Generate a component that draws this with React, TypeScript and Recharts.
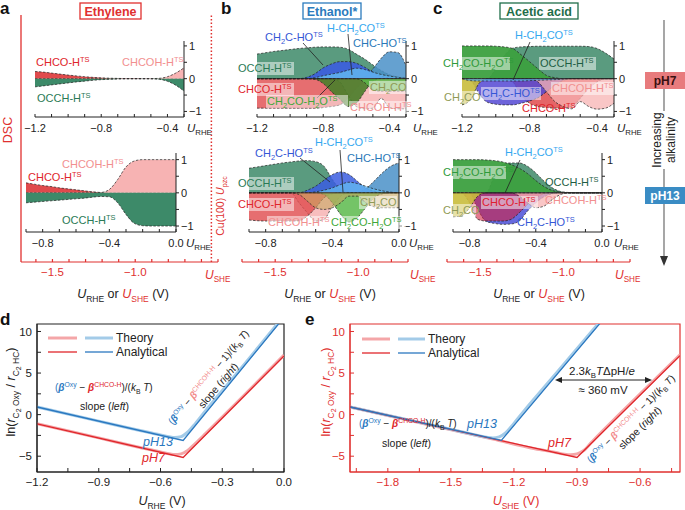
import React from 'react';
import { ComposedChart, Area, XAxis, YAxis, ReferenceLine, ReferenceArea, LineChart, Line } from 'recharts';

const FONT = '"Liberation Sans", Arial, Helvetica, sans-serif';
const RED = '#e0302f';
const INK = '#222';
const BLUE = '#2a78c0';
const PINK = '#f28a8a';

// potential grids, V vs RHE
const uPH7 = [-1.2, -1.15, -1.1, -1.05, -1.0, -0.95, -0.9, -0.85, -0.8, -0.75, -0.7, -0.65, -0.6, -0.55, -0.5, -0.45, -0.4, -0.35, -0.3];
const uPH13 = [-0.9, -0.85, -0.8, -0.75, -0.7, -0.65, -0.6, -0.55, -0.5, -0.45, -0.4, -0.35, -0.3, -0.25, -0.2, -0.15, -0.1, -0.05, 0];
const ticksPH7 = [-1.2, -1.1, -1.0, -0.9, -0.8, -0.7, -0.6, -0.5, -0.4, -0.3];
const labelsPH7 = [-1.2, -0.8, -0.4];
const ticksPH13 = [-0.9, -0.8, -0.7, -0.6, -0.5, -0.4, -0.3, -0.2, -0.1, 0];
const labelsPH13 = [-0.8, -0.4, 0];

// U_SHE axes
const sheTicksA = [-1.6, -1.5, -1.4, -1.3, -1.2, -1.1, -1.0, -0.9, -0.8, -0.7, -0.6, -0.5];
const sheTicksB = [-1.7, -1.6, -1.5, -1.4, -1.3, -1.2, -1.1, -1.0, -0.9, -0.8, -0.7];
const sheTicksC = [-1.7, -1.6, -1.5, -1.4, -1.3, -1.2, -1.1, -1.0, -0.9, -0.8, -0.7, -0.6];
const cuPzc = -0.54;

// fill colours
const C_CHCO = '#e04a4c';
const C_CHCOH = '#f7b3b3';
const C_OCCH = '#3d8a69';
const C_CH2CHO = '#3b5de0';
const C_HCH2CO = '#62b5f0';
const C_CHCHO = '#4a90c8';
// text colours
const T_CHCO = '#e0262b';
const T_CHCOH = '#f28f8f';
const T_OCCH = '#2a7a55';
const T_CH2CHO = '#3557d6';
const T_HCH2CO = '#35a8f0';
const T_CHCHO = '#2a78b8';
const T_H2O = '#3fa83a';
const T_CH2CO = '#8f9a55';

// a: ethylene, DSC
const aTopCHCO = [0.22, 0.2, 0.17, 0.14, 0.11, 0.085, 0.06, 0.04, 0.025, 0.015, 0.008, 0.004, 0.002, 0.001, 0, 0, 0, 0, 0];
const aTopCHCOH = [0, 0, 0, 0, 0, 0, 0, 0, 0, 0, 0, 0, 0, 0, 0.002, 0.01, 0.06, 0.17, 0.33];
const aTopOCCH = [-0.25, -0.22, -0.19, -0.16, -0.13, -0.1, -0.075, -0.05, -0.03, -0.02, -0.01, -0.005, -0.003, -0.002, -0.005, -0.02, -0.08, -0.2, -0.38];
const aBotCHCO = [0.3, 0.26, 0.22, 0.19, 0.15, 0.12, 0.09, 0.06, 0.03, 0.01, 0, 0, 0, 0, 0, 0, 0, 0, 0];
const aBotCHCOH = [0, 0, 0, 0, 0, 0, 0, 0, 0.002, 0.01, 0.1, 0.4, 0.78, 0.96, 1.0, 1.0, 1.0, 1.0, 1.0];
const aBotOCCH = [-0.3, -0.28, -0.26, -0.24, -0.22, -0.2, -0.18, -0.16, -0.13, -0.11, -0.12, -0.3, -0.65, -0.92, -0.99, -1, -1, -1, -1];

// b: ethanol
const bTopOCCH = [0.75, 0.79, 0.83, 0.86, 0.89, 0.92, 0.94, 0.96, 0.97, 0.97, 0.96, 0.9, 0.75, 0.6, 0.42, 0.25, 0.12, 0.05, 0.02];
const bTopCHCHO = [0, 0, 0, 0, 0, 0, 0, 0, 0, 0, 0, 0, 0, 0.05, 0.3, 0.62, 0.82, 0.8, 0.4];
const bTopCH2CHO = [0, 0, 0, 0, 0, 0, 0.04, 0.15, 0.33, 0.45, 0.52, 0.52, 0.47, 0.35, 0.2, 0.08, 0.03, 0, 0];
const bTopHCH2CO = [0, 0, 0, 0, 0, 0, 0, 0.03, 0.09, 0.14, 0.19, 0.26, 0.32, 0.28, 0.2, 0.13, 0.08, 0.04, 0.01];
const bTopCHCO = [-0.9, -0.9, -0.9, -0.9, -0.9, -0.9, -0.9, -0.9, -0.88, -0.85, -0.8, -0.6, -0.3, -0.1, -0.02, 0, 0, 0, 0];
const bTopCHCOH = [0, 0, 0, 0, 0, 0, 0, 0, 0, 0, -0.1, -0.5, -0.85, -0.92, -0.9, -0.6, -0.88, -0.92, -0.92];
const bTopCH2COH2O = [0, 0, 0, 0, 0, 0, 0, -0.02, -0.15, -0.4, -0.62, -0.85, -0.75, -0.4, -0.08, 0, 0, 0, 0];
const bTopCH2CO = [0, 0, 0, 0, 0, 0, 0, 0, 0, 0, 0, 0, 0, -0.12, -0.35, -0.38, -0.38, -0.38, -0.38];
const bBotOCCH = [0.74, 0.78, 0.82, 0.86, 0.9, 0.93, 0.96, 0.97, 0.94, 0.8, 0.4, 0.1, 0.02, 0, 0, 0, 0, 0, 0];
const bBotCHCHO = [0, 0, 0, 0, 0, 0, 0, 0, 0, 0, 0, 0, 0, 0.02, 0.12, 0.35, 0.6, 0.8, 0.9];
const bBotCH2CHO = [0, 0, 0, 0, 0, 0, 0, 0.08, 0.2, 0.38, 0.55, 0.63, 0.55, 0.35, 0.15, 0.05, 0, 0, 0];
const bBotHCH2CO = [0, 0, 0, 0, 0, 0, 0, 0, 0.03, 0.08, 0.15, 0.25, 0.32, 0.28, 0.2, 0.12, 0.06, 0.02, 0];
const bBotCHCOH = [0, 0, 0, 0, 0, 0, -0.3, -0.6, -0.85, -0.8, -0.4, -0.1, 0, 0, 0, 0, 0, 0, 0];
const bBotCHCO = [-0.82, -0.84, -0.85, -0.85, -0.85, -0.85, -0.84, -0.7, -0.45, -0.15, -0.03, 0, 0, 0, 0, 0, 0, 0, 0];
const bBotCH2COH2O = [0, 0, 0, 0, 0, 0, 0, 0, 0, -0.05, -0.3, -0.65, -0.88, -0.75, -0.45, -0.15, -0.03, 0, 0];
const bBotCH2CO = [0, 0, 0, 0, 0, 0, -0.05, -0.25, -0.45, -0.5, -0.45, -0.3, -0.1, -0.1, -0.3, -0.42, -0.45, -0.45, -0.45];

// c: acetic acid
const cTopOCCH = [0, 0, 0, 0, 0.3, 0.7, 0.93, 0.97, 0.98, 0.99, 0.99, 0.99, 0.99, 0.99, 0.99, 0.98, 0.92, 0.78, 0.6];
const cTopCH2COH2O = [1, 1, 1, 1, 0.99, 0.97, 0.92, 0.73, 0.52, 0.3, 0.1, 0.03, 0, 0, 0, 0, 0, 0, 0];
const cTopCHCO = [0, 0, 0, 0, 0, 0, -0.1, -0.5, -0.75, -0.85, -0.88, -0.9, -0.9, -0.85, -0.6, -0.3, -0.1, 0, 0];
const cTopCH2CHO = [0, -0.05, -0.45, -0.72, -0.78, -0.8, -0.8, -0.75, -0.68, -0.58, -0.4, -0.2, -0.05, 0, 0, 0, 0, 0, 0];
const cTopCHCOH = [0, 0, 0, 0, 0, 0, 0, 0, 0, -0.1, -0.4, -0.7, -0.85, -0.92, -0.7, -0.85, -0.93, -0.9, -0.75];
const cTopCH2CO = [-0.8, -0.65, -0.15, 0, 0, 0, 0, 0, 0, 0, 0, 0, 0, 0, 0, 0, 0, 0, 0];
const cTopHCH2CO = [0, -0.06, -0.07, -0.07, -0.07, -0.07, -0.07, -0.07, -0.06, -0.05, -0.04, -0.03, -0.01, 0, 0, 0, 0, 0, 0];
const cBotOCCH = [0, 0, 0, 0, 0, 0.5, 0.85, 0.9, 0.9, 0.8, 0.6, 0.35, 0.15, 0.04, 0.01, 0, 0, 0, 0];
const cBotCH2COH2O = [1, 1, 1, 1, 0.99, 0.97, 0.93, 0.85, 0.74, 0.58, 0.37, 0.19, 0.07, 0.02, 0, 0, 0, 0, 0];
const cBotCH2CHO = [0, 0, 0, -0.5, -0.86, -0.92, -0.95, -0.94, -0.85, -0.55, -0.3, -0.12, -0.03, 0, 0, 0, 0, 0, 0];
const cBotCHCO = [0, 0, -0.3, -0.8, -0.85, -0.85, -0.85, -0.8, -0.6, -0.35, -0.15, -0.03, 0, 0, 0, 0, 0, 0, 0];
const cBotCHCOH = [0, 0, 0, 0, 0, 0, 0, 0, -0.1, -0.3, -0.45, -0.4, -0.2, -0.05, 0, 0, 0, 0, 0];
const cBotCH2CO = [-0.72, -0.7, -0.45, -0.1, 0, 0, 0, 0, 0, 0, 0, 0, 0, 0, 0, 0, 0, 0, 0];

// d, e: ln(r_Oxy / r_HC)
const ratioDom = [-6.9, 10.9];
const ratioTicks = [-5, -2.5, 0, 2.5, 5, 7.5, 10];
const dTicks = [-1.2, -1.05, -0.9, -0.75, -0.6, -0.45, -0.3, -0.15, 0];
const dLabels = [-1.2, -0.9, -0.6, -0.3, 0];
const eTicks = [-1.95, -1.8, -1.65, -1.5, -1.35, -1.2, -1.05, -0.9, -0.75, -0.6, -0.45];
const eLabels = [-1.8, -1.5, -1.2, -0.9, -0.6];

const dRedTheory = [{ u: -1.2, v: -1.1 }, { u: -0.9, v: -2.8 }, { u: -0.7, v: -3.95 }, { u: -0.6, v: -4.5 }, { u: -0.56, v: -4.7 }, { u: -0.53, v: -4.8 }, { u: -0.5, v: -4.72 }, { u: -0.47, v: -4.35 }, { u: -0.43, v: -3.45 }, { u: -0.38, v: -2.25 }, { u: -0.3, v: -0.3 }, { u: 0, v: 7.15 }];
const dBlueTheory = [{ u: -1.2, v: 0.92 }, { u: -0.9, v: -0.78 }, { u: -0.7, v: -1.9 }, { u: -0.6, v: -2.45 }, { u: -0.56, v: -2.65 }, { u: -0.53, v: -2.75 }, { u: -0.5, v: -2.65 }, { u: -0.47, v: -2.15 }, { u: -0.43, v: -1.05 }, { u: -0.38, v: 0.5 }, { u: -0.33, v: 2.0 }, { u: -0.23, v: 4.95 }, { u: 0, v: 11.9 }];
const dRedAnalytical = [{ u: -1.2, v: -1.1 }, { u: -0.49, v: -5.15 }, { u: 0, v: 7.07 }];
const dBlueAnalytical = [{ u: -1.2, v: 0.92 }, { u: -0.49, v: -3.1 }, { u: 0, v: 11.7 }];

const eRedTheory = [{ u: -1.98, v: 0.92 }, { u: -1.6, v: -1.25 }, { u: -1.3, v: -2.95 }, { u: -1.1, v: -4.1 }, { u: -1.0, v: -4.55 }, { u: -0.96, v: -4.75 }, { u: -0.93, v: -4.82 }, { u: -0.9, v: -4.72 }, { u: -0.87, v: -4.35 }, { u: -0.83, v: -3.3 }, { u: -0.78, v: -2.0 }, { u: -0.7, v: 0.0 }, { u: -0.41, v: 7.2 }];
const eBlueTheory = [{ u: -1.98, v: 0.92 }, { u: -1.6, v: -1.2 }, { u: -1.4, v: -2.35 }, { u: -1.33, v: -2.72 }, { u: -1.3, v: -2.8 }, { u: -1.27, v: -2.68 }, { u: -1.24, v: -2.2 }, { u: -1.2, v: -1.05 }, { u: -1.15, v: 0.5 }, { u: -1.1, v: 2.0 }, { u: -1.0, v: 4.95 }, { u: -0.75, v: 12.4 }];
const eRedAnalytical = [{ u: -1.98, v: 0.92 }, { u: -0.9, v: -5.15 }, { u: -0.41, v: 7.1 }];
const eBlueAnalytical = [{ u: -1.98, v: 0.92 }, { u: -1.26, v: -3.1 }, { u: -0.75, v: 12.2 }];

const near = (a: number, b: number) => Math.abs(a - b) < 1e-6;
const fmt1 = (v: number) => (Math.abs(v) < 1e-9 ? '0.0' : v.toFixed(1).replace('-', '−'));

type Seg = string | { s: string; fill?: string; it?: boolean; b?: boolean };

function Rich({ x, y, segs, size = 11, fill = INK, anchor = 'start', it = false, bold = false }: { x: number; y: number; segs: Seg | Seg[]; size?: number; fill?: string; anchor?: string; it?: boolean; bold?: boolean }) {
  const list = Array.isArray(segs) ? segs : [segs];
  const out: React.ReactNode[] = [];
  let cur = 0;
  let key = 0;
  for (const sg of list) {
    const o = typeof sg === 'string' ? { s: sg } : sg;
    const re = /([_^~])\{([^}]*)\}|([^_^~{}]+)/g;
    let m: RegExpExecArray | null;
    while ((m = re.exec(o.s))) {
      const kind = m[1] || '';
      const t = m[1] ? m[2] : m[3];
      const off = kind === '_' ? size * 0.28 : kind === '^' ? -size * 0.38 : kind === '~' ? size * 0.5 : 0;
      const fs = kind === '' ? size : kind === '~' ? size * 0.55 : size * 0.68;
      out.push(
        <tspan key={key++} dy={off - cur} fontSize={fs} fill={o.fill} fontStyle={o.it ? 'italic' : undefined} fontWeight={o.b ? 'bold' : undefined}>
          {t}
        </tspan>
      );
      cur = off;
    }
  }
  return (
    <text x={x} y={y} fontSize={size} fill={fill} textAnchor={anchor} fontStyle={it ? 'italic' : 'normal'} fontWeight={bold ? 'bold' : 'normal'} style={{ whiteSpace: 'pre' }}>
      {out}
    </text>
  );
}

function Lab({ x, y, s, fill, box }: { x: number; y: number; s: string; fill: string; box?: number }) {
  return (
    <g>
      {box ? <rect x={x - 1} y={y - 10} width={box} height={13} fill="#fff" fillOpacity={0.5} /> : null}
      <Rich x={x} y={y} segs={s} fill={fill} />
    </g>
  );
}

type Band = { vals: number[]; fill: string; op: number };

function DscPlot({ x0, y0, w, h, xs, xDom, xTicks, xLabels, yDom, bands, zero }: { x0: number; y0: number; w: number; h: number; xs: number[]; xDom: number[]; xTicks: number[]; xLabels: number[]; yDom: number[]; bands: Band[]; zero?: boolean }) {
  const rows = xs.map((u, i) => {
    const r: Record<string, number> = { u };
    bands.forEach((b, k) => {
      r['s' + k] = b.vals[i];
    });
    return r;
  });
  const ML = 14;
  const MT = 6;
  const tick = { fill: INK, fontSize: 11, fontFamily: FONT };
  return (
    <div style={{ position: 'absolute', left: x0 - ML, top: y0 - MT }}>
      <ComposedChart width={ML + w + 24} height={MT + h + 22} data={rows} margin={{ top: MT, right: 0, bottom: 0, left: ML }}>
        <XAxis dataKey="u" type="number" domain={xDom} ticks={xTicks} interval={0} allowDataOverflow height={22} tickSize={-3} tickMargin={10} stroke={INK} tick={tick} tickFormatter={(v: number) => (xLabels.some((l) => near(l, v)) ? fmt1(v) : '')} />
        <YAxis orientation="right" type="number" domain={yDom} ticks={[-1, -0.5, 0, 0.5, 1]} interval={0} allowDataOverflow width={24} tickSize={3} tickMargin={2} stroke={INK} tick={tick} tickFormatter={(v: number) => (v === 1 ? '1' : v === 0 ? '0' : v === -1 ? '−1' : '')} />
        {bands.map((b, k) => (
          <Area key={k} type="monotone" dataKey={'s' + k} baseValue={0} fill={b.fill} fillOpacity={b.op} stroke={INK} strokeWidth={0.7} strokeDasharray="2.5 1.5" dot={false} activeDot={false} isAnimationActive={false} />
        ))}
        {zero && <ReferenceLine y={0} stroke={INK} strokeWidth={0.9} />}
      </ComposedChart>
    </div>
  );
}

function SheAxis({ x0, w, domain, ticks, dsc, pzc }: { x0: number; w: number; domain: number[]; ticks: number[]; dsc?: boolean; pzc?: number }) {
  const span = [{ u: domain[0], d: 0 }, { u: domain[1], d: 1 }];
  const yw = dsc ? 2 : 0;
  return (
    <div style={{ position: 'absolute', left: x0 - 14, top: 12 }}>
      <ComposedChart width={w + 28} height={3 + 247 + 26} data={span} margin={{ top: 3, right: 14, bottom: 0, left: 14 - yw }}>
        <XAxis dataKey="u" type="number" domain={domain} ticks={ticks} interval={0} allowDataOverflow height={26} tickSize={-3} tickMargin={9} stroke={RED} strokeWidth={1.2} tick={{ fill: RED, fontSize: 11.5, fontFamily: FONT }} tickFormatter={(v: number) => (near(v, -1.5) || near(v, -1.0) ? fmt1(v) : '')} />
        <YAxis type="number" dataKey="d" domain={[0, 1]} allowDataOverflow hide={!dsc} width={yw} ticks={[0, 1]} tick={false} tickLine={false} stroke={RED} strokeWidth={1.3} />
        {pzc !== undefined && <ReferenceLine x={pzc} ifOverflow="visible" stroke={RED} strokeDasharray="1.5 2" strokeWidth={1.5} />}
      </ComposedChart>
    </div>
  );
}

type LineSpec = { data: { u: number; v: number }[]; stroke: string; width: number; type: 'monotone' | 'linear' };

function RatioPlot({ x0, w, xDom, xTicks, xLabels, color, lines }: { x0: number; w: number; xDom: number[]; xTicks: number[]; xLabels: number[]; color: string; lines: LineSpec[] }) {
  const ML = 32;
  const MT = 2;
  const h = 148;
  const tick = { fill: color, fontSize: 11.5, fontFamily: FONT };
  return (
    <div style={{ position: 'absolute', left: x0 - ML, top: 324 - MT }}>
      <LineChart width={ML + w + 12} height={MT + h + 28} margin={{ top: MT, right: 12, bottom: 0, left: 0 }}>
        <XAxis dataKey="u" type="number" domain={xDom} ticks={xTicks} interval={0} allowDataOverflow height={28} tickSize={-4} tickMargin={10} stroke={color} tick={tick} tickFormatter={(v: number) => (xLabels.some((l) => near(l, v)) ? fmt1(v) : '')} />
        <YAxis type="number" domain={ratioDom} ticks={ratioTicks} interval={0} allowDataOverflow width={ML} tickSize={-4} tickMargin={9} stroke={color} tick={tick} tickFormatter={(v: number) => (Number.isInteger(v) && v % 5 === 0 ? String(v).replace('-', '−') : '')} />
        <ReferenceArea x1={xDom[0]} x2={xDom[1]} y1={ratioDom[0]} y2={ratioDom[1]} fill="none" stroke={color} strokeWidth={1.2} />
        {lines.map((l, k) => (
          <Line key={k} data={l.data} dataKey="v" type={l.type} stroke={l.stroke} strokeWidth={l.width} dot={false} activeDot={false} isAnimationActive={false} />
        ))}
      </LineChart>
    </div>
  );
}

const betaLeft: Seg[] = [
  { s: '(', fill: BLUE }, { s: 'β', fill: BLUE, it: true, b: true }, { s: '^{Oxy}', fill: BLUE }, { s: ' − ' },
  { s: 'β', fill: T_CHCO, it: true, b: true }, { s: '^{CHCO-H}', fill: T_CHCO }, { s: ')/(' }, { s: 'k', it: true }, { s: '_{B}' }, { s: ' ' }, { s: 'T', it: true }, { s: ')' },
];
const betaRight: Seg[] = [
  { s: '(', fill: BLUE }, { s: 'β', fill: BLUE, it: true, b: true }, { s: '^{Oxy}', fill: BLUE }, { s: ' − ' },
  { s: 'β', fill: PINK, it: true, b: true }, { s: '^{CHCOH-H}', fill: PINK }, { s: ' − 1)/(' }, { s: 'k', it: true }, { s: '_{B}' }, { s: ' ' }, { s: 'T', it: true }, { s: ')' },
];
const slopeLeft: Seg[] = [{ s: 'slope (' }, { s: 'left', it: true }, { s: ')' }];
const slopeRight: Seg[] = [{ s: 'slope (' }, { s: 'right', it: true }, { s: ')' }];
const uRhe: Seg[] = [{ s: 'U', it: true }, { s: '_{RHE}' }];
const uShe: Seg[] = [{ s: 'U', it: true, fill: RED }, { s: '_{SHE}', fill: RED }];
const axisTitle: Seg[] = [{ s: 'U', it: true }, { s: '_{RHE}' }, { s: ' or ' }, { s: 'U', it: true, fill: RED }, { s: '_{SHE}', fill: RED }, { s: ' (V)' }];
const ratioLabel: Seg[] = [{ s: 'ln(' }, { s: 'r', it: true }, { s: '_{C}' }, { s: '~{2}' }, { s: '_{ Oxy}' }, { s: ' / ' }, { s: 'r', it: true }, { s: '_{C}' }, { s: '~{2}' }, { s: '_{ HC}' }, { s: ')' }];

function Overlay() {
  return (
    <svg width={685} height={510} style={{ position: 'absolute', left: 0, top: 0, fontFamily: FONT, pointerEvents: 'none' }}>
      {/* panel letters and titles */}
      <text x={0} y={14} fontSize={17} fontWeight="bold" fill="#111">a</text>
      <text x={221} y={14} fontSize={17} fontWeight="bold" fill="#111">b</text>
      <text x={433} y={14} fontSize={17} fontWeight="bold" fill="#111">c</text>
      <text x={0} y={325} fontSize={17} fontWeight="bold" fill="#111">d</text>
      <text x={305} y={325} fontSize={17} fontWeight="bold" fill="#111">e</text>
      <rect x={80} y={3} width={61} height={16} fill="#fff" stroke={RED} strokeWidth={1.3} />
      <text x={110.5} y={15.5} fontSize={12.5} fontWeight="bold" fill={RED} textAnchor="middle">Ethylene</text>
      <rect x={303} y={3} width={58} height={16} fill="#fff" stroke="#2b7bbd" strokeWidth={1.3} />
      <text x={332} y={15.5} fontSize={12.5} fontWeight="bold" fill="#2b7bbd" textAnchor="middle">Ethanol*</text>
      <rect x={500} y={3} width={78} height={16} fill="#fff" stroke="#1f6e4a" strokeWidth={1.3} />
      <text x={539} y={15.5} fontSize={12.5} fontWeight="bold" fill="#1f6e4a" textAnchor="middle">Acetic acid</text>

      {/* a labels */}
      <Lab x={36} y={66} s="CHCO-H^{TS}" fill={T_CHCO} />
      <Lab x={122} y={66} s="CHCOH-H^{TS}" fill={T_CHCOH} />
      <Lab x={37} y={102} s="OCCH-H^{TS}" fill={T_OCCH} />
      <Lab x={62} y={168} s="CHCOH-H^{TS}" fill={T_CHCOH} />
      <Lab x={28} y={181} s="CHCO-H^{TS}" fill={T_CHCO} />
      <Lab x={62} y={224} s="OCCH-H^{TS}" fill={T_OCCH} />
      <Rich x={187} y={132} segs={uRhe} size={11.5} />
      <Rich x={186} y={247} segs={uRhe} size={11.5} />

      {/* b labels */}
      <line x1={303} y1={43} x2={323} y2={65} stroke={INK} strokeWidth={0.8} />
      <line x1={348} y1={34} x2={352} y2={75} stroke={INK} strokeWidth={0.8} />
      <line x1={317} y1={98} x2={335} y2={80} stroke={INK} strokeWidth={0.8} />
      <Lab x={265} y={41} s="CH_{2}C-HO^{TS}" fill={T_CH2CHO} />
      <Lab x={327} y={32} s="H-CH_{2}CO^{TS}" fill={T_HCH2CO} />
      <Lab x={353} y={47} s="CHC-HO^{TS}" fill={T_CHCHO} />
      <Lab x={238} y={72} s="OCCH-H^{TS}" fill={T_OCCH} box={57} />
      <Lab x={238} y={93} s="CHCO-H^{TS}" fill={T_CHCO} box={57} />
      <Lab x={267} y={105} s="CH_{2}CO-H_{2}O^{TS}" fill={T_H2O} box={82} />
      <Lab x={370} y={91} s="CH_{2}CO" fill={T_CH2CO} box={38} />
      <Lab x={350} y={111} s="CHCOH-H^{TS}" fill={T_CHCOH} box={62} />
      <Rich x={413} y={132} segs={uRhe} size={11.5} />
      <line x1={300} y1={158} x2={330} y2={182} stroke={INK} strokeWidth={0.8} />
      <line x1={340} y1={150} x2={343} y2={192} stroke={INK} strokeWidth={0.8} />
      <Lab x={255} y={157} s="CH_{2}C-HO^{TS}" fill={T_CH2CHO} />
      <Lab x={315} y={146} s="H-CH_{2}CO^{TS}" fill={T_HCH2CO} />
      <Lab x={347} y={162} s="CHC-HO^{TS}" fill={T_CHCHO} />
      <Lab x={238} y={187} s="OCCH-H^{TS}" fill={T_OCCH} box={57} />
      <Lab x={238} y={208} s="CHCO-H^{TS}" fill={T_CHCO} box={57} />
      <Lab x={268} y={226} s="CHCOH-H^{TS}" fill={T_CHCOH} box={62} />
      <Lab x={331} y={226} s="CH_{2}CO-H_{2}O^{TS}" fill={T_H2O} box={76} />
      <Lab x={360} y={206} s="CH_{2}CO" fill={T_CH2CO} box={38} />
      <Rich x={409} y={247} segs={uRhe} size={11.5} />

      {/* c labels */}
      <line x1={530} y1={42} x2={513} y2={80} stroke={INK} strokeWidth={0.8} />
      <Lab x={515} y={39} s="H-CH_{2}CO^{TS}" fill={T_HCH2CO} />
      <Lab x={443} y={67} s="CH_{2}CO-H_{2}O^{TS}" fill="#2f9a3a" box={68} />
      <Lab x={540} y={67} s="OCCH-H^{TS}" fill="#1e5e44" box={57} />
      <Lab x={444} y={101} s="CH_{2}CO" fill={T_CH2CO} box={36} />
      <Lab x={482} y={97} s="CH_{2}C-HO^{TS}" fill={T_CH2CHO} box={60} />
      <Lab x={552} y={92} s="CHCOH-H^{TS}" fill={T_CHCOH} box={63} />
      <Lab x={522} y={112} s="CHCO-H^{TS}" fill={T_CHCO} />
      <Rich x={617} y={132} segs={uRhe} size={11.5} />
      <line x1={520} y1={160} x2={505} y2={193} stroke={INK} strokeWidth={0.8} />
      <Lab x={505} y={156} s="H-CH_{2}CO^{TS}" fill={T_HCH2CO} />
      <Lab x={443} y={176} s="CH_{2}CO-H_{2}O^{TS}" fill="#2f9a3a" box={64} />
      <Lab x={545} y={186} s="OCCH-H^{TS}" fill="#1e5e44" />
      <Lab x={443} y={214} s="CH_{2}CO" fill={T_CH2CO} box={34} />
      <Lab x={482} y={206} s="CHCO-H^{TS}" fill="#e02030" box={57} />
      <Lab x={545} y={204} s="CHCOH-H^{TS}" fill={T_CHCOH} />
      <Lab x={517} y={226} s="CH_{2}C-HO^{TS}" fill={T_CH2CHO} />
      <Rich x={614} y={247} segs={uRhe} size={11.5} />

      {/* shared potential axes */}
      <g transform="translate(12,130) rotate(-90)">
        <text x={0} y={0} fontSize={12.5} fill={RED} textAnchor="middle">DSC</text>
      </g>
      <g transform="translate(224,206) rotate(-90)">
        <Rich x={0} y={0} segs={[{ s: 'Cu(100) ' }, { s: 'U', it: true }, { s: '_{pzc}' }]} size={10.5} fill={RED} anchor="middle" />
      </g>
      <Rich x={205} y={279} segs={uShe} size={12} />
      <Rich x={410} y={279} segs={uShe} size={12} />
      <Rich x={615} y={279} segs={uShe} size={12} />
      <Rich x={123} y={298} segs={axisTitle} size={12.5} anchor="middle" />
      <Rich x={330} y={298} segs={axisTitle} size={12.5} anchor="middle" />
      <Rich x={539} y={298} segs={axisTitle} size={12.5} anchor="middle" />

      {/* alkalinity arrow */}
      <line x1={664} y1={20} x2={664} y2={258} stroke="#777" strokeWidth={1.3} />
      <polygon points="664,266 660,256 668,256" fill="#333" />
      <rect x={645} y={72} width={40} height={17} fill="#e87b7d" />
      <text x={665} y={85} fontSize={12} fontWeight="bold" fill="#3a1010" textAnchor="middle">pH7</text>
      <rect x={645} y={187} width={40} height={17} fill="#3a8cc4" />
      <text x={665} y={200} fontSize={12} fontWeight="bold" fill="#fff" textAnchor="middle">pH13</text>
      <rect x={650} y={111} width={28} height={58} fill="#fff" />
      <g transform="translate(661,140) rotate(-90)">
        <text x={0} y={0} fontSize={12} fill={INK} textAnchor="middle">Increasing</text>
        <text x={0} y={14} fontSize={12} fill={INK} textAnchor="middle">alkalinity</text>
      </g>

      {/* d */}
      <g transform="translate(15,392) rotate(-90)">
        <Rich x={0} y={0} segs={ratioLabel} size={12.5} anchor="middle" />
      </g>
      <Rich x={162} y={505} segs={[{ s: 'U', it: true }, { s: '_{RHE}' }, { s: ' (V)' }]} size={12.5} anchor="middle" />
      <line x1={48} y1={338} x2={77} y2={338} stroke="#f4a6a8" strokeWidth={3} />
      <line x1={85} y1={338} x2={113} y2={338} stroke="#a3cbe8" strokeWidth={3} />
      <line x1={48} y1={352} x2={77} y2={352} stroke={T_CHCO} strokeWidth={1.3} />
      <line x1={85} y1={352} x2={113} y2={352} stroke={BLUE} strokeWidth={1.3} />
      <text x={116} y={342} fontSize={12} fill={INK}>Theory</text>
      <text x={116} y={356} fontSize={12} fill={INK}>Analytical</text>
      <Rich x={55} y={391} segs={betaLeft} size={10} />
      <Rich x={80} y={410} segs={slopeLeft} size={10.5} />
      <g transform="translate(213,381) rotate(-50)">
        <Rich x={0} y={-2.5} segs={betaRight} size={10} anchor="middle" />
        <Rich x={0} y={10.5} segs={slopeRight} size={10.5} anchor="middle" />
      </g>
      <text x={143} y={446} fontSize={12.5} fontStyle="italic" fill={BLUE}>pH13</text>
      <text x={142} y={462} fontSize={12.5} fontStyle="italic" fill={T_CHCO}>pH7</text>

      {/* e */}
      <g transform="translate(330,392) rotate(-90)">
        <Rich x={0} y={0} segs={ratioLabel} size={12.5} fill={RED} anchor="middle" />
      </g>
      <Rich x={516} y={505} segs={[{ s: 'U', it: true }, { s: '_{SHE}' }, { s: ' (V)' }]} size={12.5} fill={RED} anchor="middle" />
      <line x1={362} y1={339} x2={390} y2={339} stroke="#f4a6a8" strokeWidth={3} />
      <line x1={398} y1={339} x2={425} y2={339} stroke="#a3cbe8" strokeWidth={3} />
      <line x1={362} y1={353} x2={390} y2={353} stroke={T_CHCO} strokeWidth={1.3} />
      <line x1={398} y1={353} x2={425} y2={353} stroke={BLUE} strokeWidth={1.3} />
      <text x={428} y={343} fontSize={12} fill={INK}>Theory</text>
      <text x={428} y={357} fontSize={12} fill={INK}>Analytical</text>
      <line x1={559} y1={380} x2={648} y2={380} stroke={INK} strokeWidth={1} />
      <polygon points="555,380 562,377 562,383" fill={INK} />
      <polygon points="652,380 645,377 645,383" fill={INK} />
      <Rich x={602} y={375} segs={[{ s: '2.3' }, { s: 'k', it: true }, { s: '_{B}' }, { s: 'T', it: true }, { s: 'ΔpH/' }, { s: 'e', it: true }]} size={11.5} anchor="middle" />
      <text x={603} y={394} fontSize={11.5} fill={INK} textAnchor="middle">≈ 360 mV</text>
      <Rich x={359} y={427} segs={betaLeft} size={10} />
      <Rich x={382} y={447} segs={slopeLeft} size={10.5} />
      <g transform="translate(635,423) rotate(-45)">
        <Rich x={0} y={-2.5} segs={betaRight} size={10} anchor="middle" />
        <Rich x={0} y={10.5} segs={slopeRight} size={10.5} anchor="middle" />
      </g>
      <text x={467} y={428} fontSize={12.5} fontStyle="italic" fill={BLUE}>pH13</text>
      <text x={548} y={447} fontSize={12.5} fontStyle="italic" fill={T_CHCO}>pH7</text>
    </svg>
  );
}

export default function App() {
  const y7 = [-1.17, 1.15];
  const y13 = [-1.18, 1.2];
  return (
    <div style={{ position: 'absolute', left: 0, top: 0, width: 685, height: 510, background: '#fff', fontFamily: FONT, overflow: 'hidden' }}>
      <SheAxis x0={21} w={197} domain={[-1.69, -0.5]} ticks={sheTicksA} dsc pzc={cuPzc} />
      <SheAxis x0={242} w={166} domain={[-1.7, -0.7]} ticks={sheTicksB} />
      <SheAxis x0={447} w={183} domain={[-1.7, -0.6]} ticks={sheTicksC} />

      <DscPlot x0={35} y0={41} w={149} h={76} xs={uPH7} xDom={[-1.2, -0.3]} xTicks={ticksPH7} xLabels={labelsPH7} yDom={y7}
        bands={[{ vals: aTopCHCO, fill: C_CHCO, op: 1 }, { vals: aTopCHCOH, fill: C_CHCOH, op: 1 }, { vals: aTopOCCH, fill: C_OCCH, op: 1 }]} />
      <DscPlot x0={26} y0={153} w={150} h={79} xs={uPH13} xDom={[-0.9, 0]} xTicks={ticksPH13} xLabels={labelsPH13} yDom={y13}
        bands={[{ vals: aBotCHCO, fill: C_CHCO, op: 1 }, { vals: aBotCHCOH, fill: C_CHCOH, op: 1 }, { vals: aBotOCCH, fill: C_OCCH, op: 1 }]} />

      <DscPlot x0={257} y0={41} w={149} h={76} xs={uPH7} xDom={[-1.2, -0.3]} xTicks={ticksPH7} xLabels={labelsPH7} yDom={y7} zero
        bands={[
          { vals: bTopOCCH, fill: C_OCCH, op: 0.85 },
          { vals: bTopCHCHO, fill: C_CHCHO, op: 0.85 },
          { vals: bTopCH2CHO, fill: C_CH2CHO, op: 0.9 },
          { vals: bTopHCH2CO, fill: C_HCH2CO, op: 0.85 },
          { vals: bTopCHCO, fill: C_CHCO, op: 0.8 },
          { vals: bTopCHCOH, fill: C_CHCOH, op: 0.85 },
          { vals: bTopCH2COH2O, fill: '#4c7e2b', op: 0.92 },
          { vals: bTopCH2CO, fill: '#5cb84a', op: 0.85 },
        ]} />
      <DscPlot x0={249} y0={153} w={150} h={79} xs={uPH13} xDom={[-0.9, 0]} xTicks={ticksPH13} xLabels={labelsPH13} yDom={y13} zero
        bands={[
          { vals: bBotOCCH, fill: C_OCCH, op: 0.85 },
          { vals: bBotCHCHO, fill: C_CHCHO, op: 0.85 },
          { vals: bBotCH2CHO, fill: C_CH2CHO, op: 0.85 },
          { vals: bBotHCH2CO, fill: C_HCH2CO, op: 0.8 },
          { vals: bBotCHCOH, fill: C_CHCOH, op: 0.85 },
          { vals: bBotCHCO, fill: C_CHCO, op: 0.8 },
          { vals: bBotCH2COH2O, fill: '#5cba4c', op: 0.85 },
          { vals: bBotCH2CO, fill: '#c8a860', op: 0.6 },
        ]} />

      <DscPlot x0={462} y0={41} w={152} h={76} xs={uPH7} xDom={[-1.2, -0.3]} xTicks={ticksPH7} xLabels={labelsPH7} yDom={y7} zero
        bands={[
          { vals: cTopOCCH, fill: C_OCCH, op: 0.85 },
          { vals: cTopCH2COH2O, fill: '#3da040', op: 0.95 },
          { vals: cTopCHCO, fill: C_CHCO, op: 0.85 },
          { vals: cTopCH2CHO, fill: '#5448d4', op: 0.85 },
          { vals: cTopCHCOH, fill: C_CHCOH, op: 0.75 },
          { vals: cTopCH2CO, fill: '#c9bd3c', op: 0.9 },
          { vals: cTopHCH2CO, fill: C_HCH2CO, op: 0.8 },
        ]} />
      <DscPlot x0={453} y0={153} w={149} h={79} xs={uPH13} xDom={[-0.9, 0]} xTicks={ticksPH13} xLabels={labelsPH13} yDom={y13} zero
        bands={[
          { vals: cBotOCCH, fill: C_OCCH, op: 0.85 },
          { vals: cBotCH2COH2O, fill: '#3da040', op: 0.95 },
          { vals: cBotCH2CHO, fill: '#4b4fd8', op: 0.85 },
          { vals: cBotCHCO, fill: '#d02040', op: 0.6 },
          { vals: cBotCHCOH, fill: C_CHCOH, op: 0.75 },
          { vals: cBotCH2CO, fill: '#c9bd3c', op: 0.9 },
        ]} />

      <RatioPlot x0={37} w={247} xDom={[-1.2, 0]} xTicks={dTicks} xLabels={dLabels} color={INK}
        lines={[
          { data: dRedTheory, stroke: '#f4a6a8', width: 3, type: 'monotone' },
          { data: dBlueTheory, stroke: '#a3cbe8', width: 3, type: 'monotone' },
          { data: dRedAnalytical, stroke: T_CHCO, width: 1.3, type: 'linear' },
          { data: dBlueAnalytical, stroke: BLUE, width: 1.3, type: 'linear' },
        ]} />
      <RatioPlot x0={350} w={330} xDom={[-1.98, -0.41]} xTicks={eTicks} xLabels={eLabels} color={RED}
        lines={[
          { data: eRedTheory, stroke: '#f4a6a8', width: 3, type: 'monotone' },
          { data: eBlueTheory, stroke: '#a3cbe8', width: 3, type: 'monotone' },
          { data: eRedAnalytical, stroke: T_CHCO, width: 1.3, type: 'linear' },
          { data: eBlueAnalytical, stroke: BLUE, width: 1.3, type: 'linear' },
        ]} />

      <Overlay />
    </div>
  );
}
